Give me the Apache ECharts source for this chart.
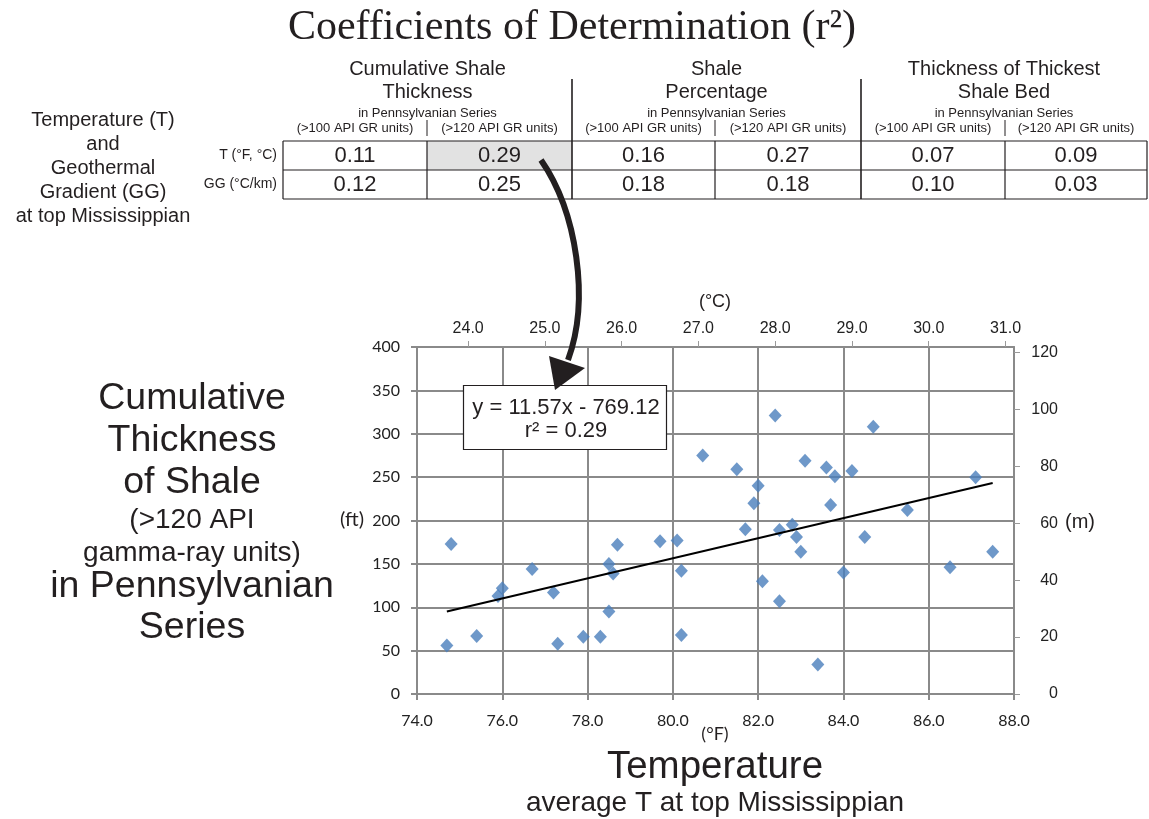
<!DOCTYPE html>
<html>
<head>
<meta charset="utf-8">
<script src="https://cdn.jsdelivr.net/npm/echarts@6/dist/echarts.min.js"></script>
<style>
  html, body { margin: 0; padding: 0; background: #ffffff; }
  #chart { width: 1149px; height: 819px; }
</style>
</head>
<body>
<div id="chart"></div>
<script>
// Average temperature at the top of the Mississippian (°F), one value per well
const tempF = [74.8, 74.7, 75.4, 75.9, 76.0, 76.7, 77.2, 77.3, 77.9, 78.3,
               78.5, 78.5, 78.6, 78.7, 79.7, 80.1, 80.2, 80.2, 80.7, 81.5,
               81.7, 81.9, 82.0, 82.1, 82.4, 82.5, 82.5, 82.8, 82.9, 83.0,
               83.1, 83.4, 83.6, 83.7, 83.8, 84.0, 84.2, 84.5, 84.7, 85.5,
               86.5, 87.1, 87.5];
// Cumulative thickness of shale (>120 API gamma-ray units) in the Pennsylvanian, ft
const shaleFt = [173, 56, 67, 113, 122, 144, 117, 58, 66, 66,
                 95, 150, 139, 172, 176, 177, 142, 68, 275, 259,
                 190, 220, 240, 130, 321, 189, 107, 195, 181, 164,
                 269, 34, 261, 218, 251, 140, 257, 181, 308, 212,
                 146, 250, 164];

// Least-squares trend line
const trendSlope = 11.57;
const trendIntercept = -769.12;
const trendR2 = 0.29;
const trendRangeF = [74.7, 87.5];

// Axis ranges and tick values
const fRange = [74, 88];
const fInterval = 2;
const ftRange = [0, 400];
const ftInterval = 50;
const cTicks = [24, 25, 26, 27, 28, 29, 30, 31];
const mTicks = [0, 20, 40, 60, 80, 100, 120];

// Coefficient-of-determination table
const tableGroups = ['Cumulative Shale\nThickness', 'Shale\nPercentage', 'Thickness of Thickest\nShale Bed'];
const tableGroupNote = 'in Pennsylvanian Series';
const tableSubCols = ['(>100 API GR units)', '(>120 API GR units)'];
const tableRowLabels = ['T (°F, °C)', 'GG (°C/km)'];
const r2Temp = [0.11, 0.29, 0.16, 0.27, 0.07, 0.09];
const r2Grad = [0.12, 0.25, 0.18, 0.18, 0.10, 0.03];
const highlightCell = { row: 0, col: 1 };

const f2c = f => (f - 32) / 1.8;
const ft2m = ft => ft * 0.3048;

const SANS = '"Liberation Sans", Arial, sans-serif';
const CAL = 'Lato, "Open Sans", sans-serif';
const INK = '#231f20';
const GRID = '#8a8a8a';

const chart = echarts.init(document.getElementById('chart'), null, { renderer: 'canvas' });

const points = tempF.map((t, i) => [t, shaleFt[i]]);
const trend = trendRangeF.map(t => [t, trendSlope * t + trendIntercept]);

// ---- table graphics ----
const colEdges = [283, 427, 572, 715, 861, 1005, 1147];
const rowEdges = [141, 170, 199];
const g = [];
const txt = (text, x, y, size, align, family, extra) => ({
  type: 'text', z: 100,
  style: Object.assign({ text, x, y, font: size + 'px ' + (family || SANS), fill: INK,
    textAlign: align || 'center', textVerticalAlign: 'middle' }, extra || {})
});
const line = (x1, y1, x2, y2, w) => ({
  type: 'line', z: 100,
  shape: { x1, y1, x2, y2 },
  style: { stroke: INK, lineWidth: w || 1 }
});

// highlighted cell
g.push({
  type: 'rect', z: 99,
  shape: {
    x: colEdges[highlightCell.col], y: rowEdges[highlightCell.row],
    width: colEdges[highlightCell.col + 1] - colEdges[highlightCell.col],
    height: rowEdges[highlightCell.row + 1] - rowEdges[highlightCell.row]
  },
  style: { fill: '#e2e2e2' }
});
// horizontal rules
rowEdges.forEach(y => g.push(line(colEdges[0], y, colEdges[6], y, 1.2)));
// vertical rules
colEdges.forEach((x, i) => {
  const major = (i === 2 || i === 4);
  if (major) g.push(line(x, 79, x, rowEdges[2], 1.6));
  else g.push(line(x, rowEdges[0], x, rowEdges[2], 1.2));
  if (i === 1 || i === 3 || i === 5) g.push(line(x, 120, x, 136, 1));
});
// group headers
tableGroups.forEach((name, k) => {
  const cx = (colEdges[2 * k] + colEdges[2 * k + 2]) / 2;
  g.push(txt(name, cx, 80.5, 20, 'center', SANS, { lineHeight: 23 }));
  g.push(txt(tableGroupNote, cx, 113, 13));
  tableSubCols.forEach((s, j) => {
    const c = 2 * k + j;
    g.push(txt(s, (colEdges[c] + colEdges[c + 1]) / 2, 128, 13));
  });
});
// row labels and values
[r2Temp, r2Grad].forEach((vals, r) => {
  const cy = (rowEdges[r] + rowEdges[r + 1]) / 2;
  g.push(txt(tableRowLabels[r], 277, cy, 14, 'right'));
  vals.forEach((v, c) => g.push(txt(v.toFixed(2), (colEdges[c] + colEdges[c + 1]) / 2, cy, 22)));
});
// left-hand table caption
['Temperature (T)', 'and', 'Geothermal', 'Gradient (GG)', 'at top Mississippian']
  .forEach((s, i) => g.push(txt(s, 103, 120 + i * 24, 20)));

// title
g.push(txt('Coefficients of Determination (r²)', 572, 28, 42, 'center', '"Liberation Serif", "Times New Roman", serif'));

// curved arrow from highlighted cell down to the regression label
g.push({
  type: 'bezierCurve', z: 101,
  shape: { x1: 541, y1: 160, cpx1: 577, cpy1: 212, cpx2: 590, cpy2: 300, x2: 568, y2: 360 },
  style: { stroke: INK, lineWidth: 6, fill: null }
});
g.push({
  type: 'polygon', z: 101,
  shape: { points: [[549, 356], [585, 368], [555, 390]] },
  style: { fill: INK }
});

// regression equation box
g.push({
  type: 'rect', z: 100,
  shape: { x: 463.5, y: 385.5, width: 203, height: 64 },
  style: { fill: '#ffffff', stroke: INK, lineWidth: 1.2 }
});
const sign = trendIntercept < 0 ? '-' : '+';
g.push(txt('y = ' + trendSlope.toFixed(2) + 'x ' + sign + ' ' + Math.abs(trendIntercept).toFixed(2), 566, 408, 22));
g.push(txt('r² = ' + trendR2.toFixed(2), 566, 431, 22));

// axis unit labels
g.push(txt('(°C)', 715, 302, 18));
g.push(txt('(°F)', 715, 734, 18, 'center', CAL));
g.push(txt('(ft)', 352, 520, 20, 'center', CAL));
g.push(txt('(m)', 1080, 522, 20));

// y-axis caption
[['Cumulative', 37.5, 399], ['Thickness', 37.5, 441], ['of Shale', 37.5, 483],
 ['(>120 API', 28, 520], ['gamma-ray units)', 28, 553],
 ['in Pennsylvanian', 37.5, 587], ['Series', 37.5, 628]]
  .forEach(([s, size, y]) => g.push(txt(s, 192, y, size)));

// x-axis caption
g.push(txt('Temperature', 715, 767, 38.5));
g.push(txt('average T at top Mississippian', 715, 803, 28));

const axisLineGrey = { show: true, onZero: false, lineStyle: { color: GRID, width: 2 } };

chart.setOption({
  animation: false,
  backgroundColor: '#ffffff',
  grid: { left: 417, right: 135, top: 347, bottom: 125, containLabel: false },
  xAxis: [
    {
      type: 'value', position: 'bottom', min: fRange[0], max: fRange[1], interval: fInterval,
      axisLine: axisLineGrey,
      axisTick: { show: true, inside: false, length: 6, lineStyle: { color: GRID, width: 2 } },
      splitLine: { show: true, lineStyle: { color: GRID, width: 2 } },
      axisLabel: { formatter: v => v.toFixed(1), color: '#222', fontFamily: CAL, fontSize: 16, margin: 19 }
    },
    {
      type: 'value', position: 'top', min: f2c(fRange[0]), max: f2c(fRange[1]),
      axisLine: axisLineGrey,
      axisTick: { show: true, inside: false, length: 6, customValues: cTicks, lineStyle: { color: '#9a9a9a', width: 1 } },
      splitLine: { show: false },
      axisLabel: { customValues: cTicks, formatter: v => v.toFixed(1), color: '#222', fontFamily: SANS, fontSize: 16, margin: 10 }
    }
  ],
  yAxis: [
    {
      type: 'value', position: 'left', min: ftRange[0], max: ftRange[1], interval: ftInterval,
      axisLine: axisLineGrey,
      axisTick: { show: true, inside: false, length: 6, lineStyle: { color: GRID, width: 2 } },
      splitLine: { show: true, lineStyle: { color: GRID, width: 2 } },
      axisLabel: { color: '#222', fontFamily: CAL, fontSize: 16, margin: 17 }
    },
    {
      type: 'value', position: 'right', min: ft2m(ftRange[0]), max: ft2m(ftRange[1]),
      axisLine: axisLineGrey,
      axisTick: { show: true, inside: false, length: 6, customValues: mTicks, lineStyle: { color: '#9a9a9a', width: 1 } },
      splitLine: { show: false },
      axisLabel: { customValues: mTicks, color: '#222', fontFamily: SANS, fontSize: 16, align: 'right', margin: 44 }
    }
  ],
  series: [
    {
      type: 'scatter', xAxisIndex: 0, yAxisIndex: 0,
      symbol: 'diamond', symbolSize: [13, 14],
      itemStyle: { color: '#4a7ebb' },
      data: points, z: 3
    },
    {
      type: 'line', xAxisIndex: 0, yAxisIndex: 0,
      data: trend, showSymbol: false, symbol: 'none',
      lineStyle: { color: '#000000', width: 2 }, z: 4
    }
  ],
  graphic: { elements: g }
});
</script>
</body>
</html>
